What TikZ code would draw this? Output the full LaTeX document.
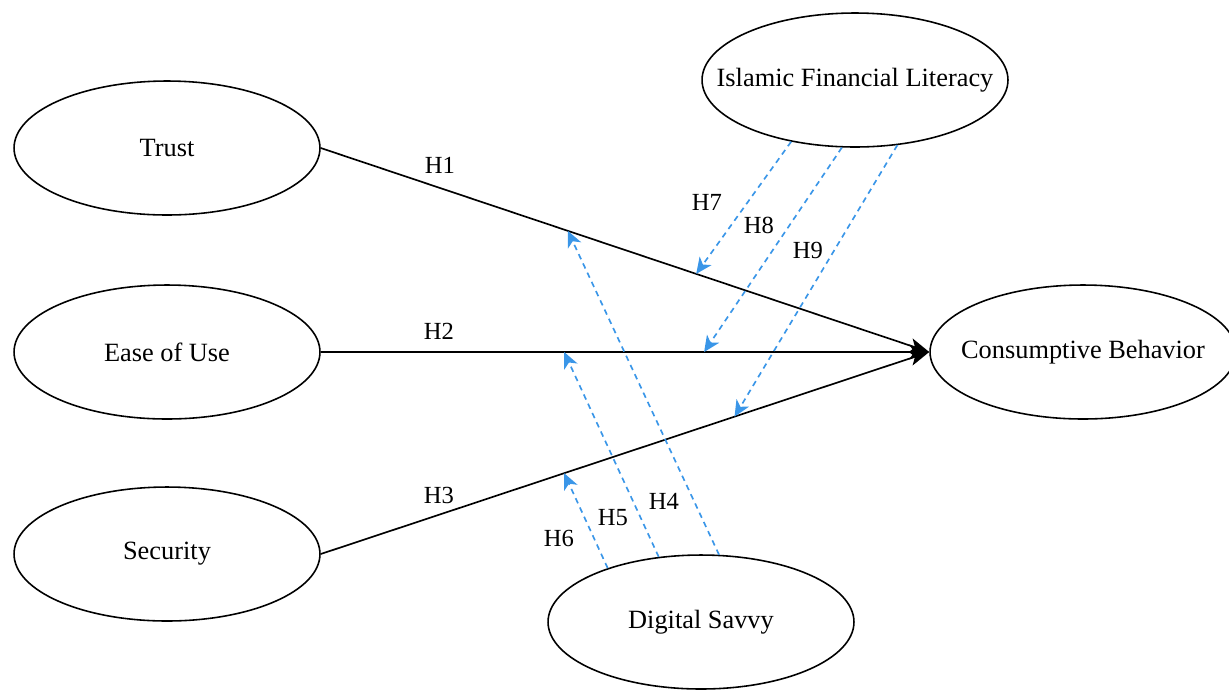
\documentclass[tikz,border=0pt]{standalone}
\usepackage{fontspec}
\setmainfont{Liberation Serif}
\usetikzlibrary{arrows.meta,shapes.geometric}
\definecolor{hypblue}{RGB}{58,150,232}
\newcommand{\cname}[1]{\makebox[0pt]{#1}}
\tikzset{construct/.style={ellipse, draw, line width=0.9pt, inner sep=0pt, minimum width=6.12cm, minimum height=2.68cm, font=\fontsize{15}{18}\selectfont},
direct/.style={line width=0.95pt, -{Stealth[length=0.4cm, width=0.3cm, inset=0.1cm]}},
moder/.style={hypblue, line width=0.95pt, dash pattern=on 3.2pt off 2.6pt, -{Stealth[length=0.32cm, width=0.29cm, inset=0.09cm]}},
hyp/.style={font=\fontsize{14}{16}\selectfont, inner sep=0pt}}

\begin{document}
\begin{tikzpicture}[x=0.02cm,y=-0.02cm]
\useasboundingbox (0,0) rectangle (1229,691);
\node[construct] (trust) at (167,148) {\cname{Trust}};
\node[construct] (ease) at (167,352) {\cname{Ease of Use}};
\node[construct] (sec) at (167,554) {\cname{Security}};
\node[construct] (ifl) at (855,80) {\cname{Islamic Financial Literacy}};
\node[construct] (cb) at (1083,352) {\cname{Consumptive Behavior}};
\node[construct] (ds) at (701,622) {\cname{Digital Savvy}};

\draw[direct] (trust.east) -- (cb.west) coordinate[pos=0.406] (h4end) coordinate[pos=0.617] (h7end);
\draw[direct] (ease.east) -- (cb.west) coordinate[pos=0.40] (h5end) coordinate[pos=0.63] (h8end);
\draw[direct] (sec.east) -- (cb.west) coordinate[pos=0.40] (h6end) coordinate[pos=0.68] (h9end);

\draw[moder] (ifl.-136) -- (h7end);
\draw[moder] (ifl.-101) -- (h8end);
\draw[moder] (ifl.-57) -- (h9end);
\draw[moder] (ds.75) -- (h4end);
\draw[moder] (ds.123) -- (h5end);
\draw[moder] (ds.150) -- (h6end);

\node[hyp] (h1) at (440,165) {H1};
\node[hyp] (h2) at (439,331) {H2};
\node[hyp] (h3) at (439,495) {H3};
\node[hyp] (h4) at (664,501) {H4};
\node[hyp] (h5) at (613,518) {H5};
\node[hyp] (h6) at (559,538) {H6};
\node[hyp] (h7) at (707,202) {H7};
\node[hyp] (h8) at (759,225) {H8};
\node[hyp] (h9) at (808,250) {H9};
\end{tikzpicture}
\end{document}
